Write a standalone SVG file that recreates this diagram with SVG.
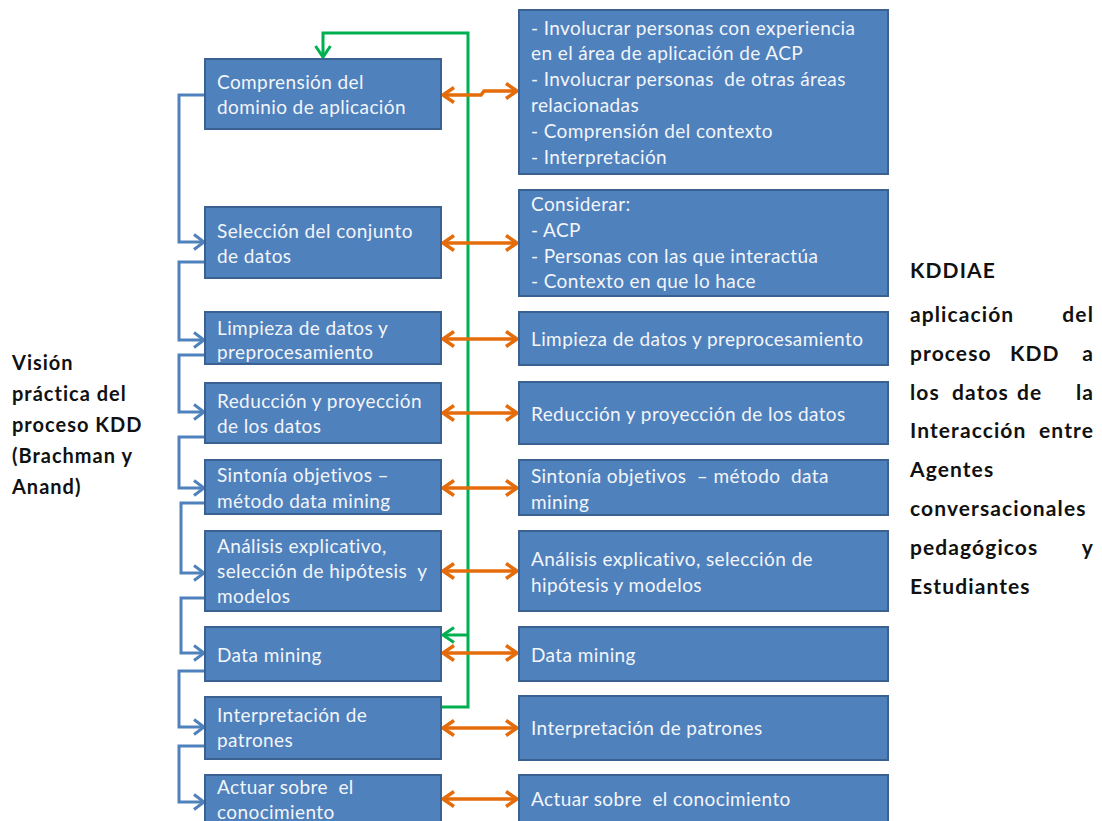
<svg xmlns="http://www.w3.org/2000/svg" width="1102" height="821" viewBox="0 0 1102 821">
  <style>
    .box { fill: #4F81BD; stroke: #3A6190; stroke-width: 2; }
    .t { font-family: Lato, "Liberation Sans", sans-serif; font-size: 19px; letter-spacing: 0.4px; fill: #F3F5F9; }
    .lbl { font-family: Lato, "Liberation Sans", sans-serif; font-size: 20px; letter-spacing: 1px; font-weight: bold; fill: #111; }
    .lbr { font-family: Lato, "Liberation Sans", sans-serif; font-size: 21px; letter-spacing: 1.1px; font-weight: bold; fill: #111; }
    .end { text-anchor: end; }
    .flow { fill: none; stroke: #4F81BD; stroke-width: 3; marker-end: url(#arrBlue); }
    .link { fill: none; stroke: #E46C0A; stroke-width: 3.5; marker-start: url(#arrOrange); marker-end: url(#arrOrange); }
    .loop { fill: none; stroke: #00B050; stroke-width: 3; }
  </style>
  <defs>
    <marker id="arrBlue" markerUnits="userSpaceOnUse" viewBox="0 0 14 18" markerWidth="14" markerHeight="18" refX="12" refY="9" orient="auto" overflow="visible">
      <path d="M2,1.5 L12,9 L2,16.5" fill="none" stroke="#4F81BD" stroke-width="3"/>
    </marker>
    <marker id="arrOrange" markerUnits="userSpaceOnUse" viewBox="0 0 14 18" markerWidth="14" markerHeight="18" refX="12" refY="9" orient="auto-start-reverse" overflow="visible">
      <path d="M1,1.5 L12,9 L1,16.5" fill="none" stroke="#E46C0A" stroke-width="3.5"/>
    </marker>
    <marker id="arrGreen" markerUnits="userSpaceOnUse" viewBox="0 0 14 18" markerWidth="14" markerHeight="18" refX="12" refY="9" orient="auto" overflow="visible">
      <path d="M1,1.5 L12,9 L1,16.5" fill="none" stroke="#00B050" stroke-width="3"/>
    </marker>
  </defs>

  <!-- side labels -->
  <g id="label-left">
    <text class="lbl" x="12" y="370">Visión</text>
    <text class="lbl" x="12" y="401">práctica del</text>
    <text class="lbl" x="12" y="432">proceso KDD</text>
    <text class="lbl" x="12" y="463">(Brachman y</text>
    <text class="lbl" x="12" y="494">Anand)</text>
  </g>
  <g id="label-right">
    <text class="lbr" x="910" y="278">KDDIAE</text>
    <text class="lbr" x="910" y="322">aplicación</text>
    <text class="lbr end" x="1094" y="322">del</text>
    <text class="lbr" x="910" y="361">proceso</text>
    <text class="lbr" x="1010" y="361">KDD</text>
    <text class="lbr end" x="1094" y="361">a</text>
    <text class="lbr" x="910" y="400">los</text>
    <text class="lbr" x="952" y="400">datos</text>
    <text class="lbr" x="1017" y="400">de</text>
    <text class="lbr end" x="1094" y="400">la</text>
    <text class="lbr" x="910" y="438">Interacción</text>
    <text class="lbr end" x="1094" y="438">entre</text>
    <text class="lbr" x="910" y="477">Agentes</text>
    <text class="lbr" x="910" y="516">conversacionales</text>
    <text class="lbr" x="910" y="555">pedagógicos</text>
    <text class="lbr end" x="1094" y="555">y</text>
    <text class="lbr" x="910" y="594">Estudiantes</text>
  </g>

  <!-- connectors -->
  <g id="connectors">
    <!-- step-to-step flow on the left -->
    <path class="flow" d="M205,95 H179 V242 H204"/>
    <path class="flow" d="M205,262 H179 V340 H204"/>
    <path class="flow" d="M205,355 H179 V412 H204"/>
    <path class="flow" d="M205,437 H179 V488 H204"/>
    <path class="flow" d="M205,503 H181 V573 H204"/>
    <path class="flow" d="M205,598 H181 V653 H204"/>
    <path class="flow" d="M205,671 H179 V727 H204"/>
    <path class="flow" d="M205,746 H179 V802 H204"/>
    <!-- feedback loop from pattern interpretation -->
    <path class="loop" d="M442,707 H468 V33 H323 V57" marker-end="url(#arrGreen)"/>
    <path class="loop" d="M468,635 H443" marker-end="url(#arrGreen)"/>
    <!-- two-way links between steps and KDDIAE notes -->
    <path class="link" d="M443,95 H481 L484,91 H517"/>
    <path class="link" d="M443,243 H517"/>
    <path class="link" d="M443,339 H517"/>
    <path class="link" d="M443,413 H517"/>
    <path class="link" d="M443,488 H517"/>
    <path class="link" d="M443,571 H517"/>
    <path class="link" d="M443,653 H517"/>
    <path class="link" d="M443,728 H517"/>
    <path class="link" d="M443,799 H517"/>
  </g>

  <!-- KDD steps -->
  <g id="step-1"><rect class="box" x="205" y="59" width="236" height="70"/>
    <text class="t" x="217" y="89">Comprensión del</text>
    <text class="t" x="217" y="114">dominio de aplicación</text></g>
  <g id="step-2"><rect class="box" x="205" y="207" width="236" height="71"/>
    <text class="t" x="217" y="238">Selección del conjunto</text>
    <text class="t" x="217" y="263">de datos</text></g>
  <g id="step-3"><rect class="box" x="205" y="312" width="236" height="52"/>
    <text class="t" x="217" y="335">Limpieza de datos y</text>
    <text class="t" x="217" y="359">preprocesamiento</text></g>
  <g id="step-4"><rect class="box" x="205" y="383" width="236" height="60"/>
    <text class="t" x="217" y="408">Reducción y proyección</text>
    <text class="t" x="217" y="433">de los datos</text></g>
  <g id="step-5"><rect class="box" x="205" y="460" width="236" height="54"/>
    <text class="t" x="217" y="482">Sintonía objetivos –</text>
    <text class="t" x="217" y="508">método data mining</text></g>
  <g id="step-6"><rect class="box" x="205" y="531" width="236" height="80"/>
    <text class="t" x="217" y="553">Análisis explicativo,</text>
    <text class="t" x="217" y="578" xml:space="preserve">selección de hipótesis  y</text>
    <text class="t" x="217" y="603">modelos</text></g>
  <g id="step-7"><rect class="box" x="205" y="627" width="236" height="54"/>
    <text class="t" x="217" y="662">Data mining</text></g>
  <g id="step-8"><rect class="box" x="205" y="697" width="236" height="62"/>
    <text class="t" x="217" y="722">Interpretación de</text>
    <text class="t" x="217" y="747">patrones</text></g>
  <g id="step-9"><rect class="box" x="205" y="775" width="236" height="60"/>
    <text class="t" x="217" y="794" xml:space="preserve">Actuar sobre  el</text>
    <text class="t" x="217" y="819">conocimiento</text></g>

  <!-- KDDIAE notes -->
  <g id="note-1"><rect class="box" x="519" y="10" width="369" height="164"/>
    <text class="t" x="531" y="34.5">- Involucrar personas con experiencia</text>
    <text class="t" x="531" y="60.3">en el área de aplicación de ACP</text>
    <text class="t" x="531" y="86.1" xml:space="preserve">- Involucrar personas  de otras áreas</text>
    <text class="t" x="531" y="111.9">relacionadas</text>
    <text class="t" x="531" y="137.7">- Comprensión del contexto</text>
    <text class="t" x="531" y="163.5">- Interpretación</text></g>
  <g id="note-2"><rect class="box" x="519" y="190" width="369" height="106"/>
    <text class="t" x="531" y="211">Considerar:</text>
    <text class="t" x="531" y="237">- ACP</text>
    <text class="t" x="531" y="263">- Personas con las que interactúa</text>
    <text class="t" x="531" y="288">- Contexto en que lo hace</text></g>
  <g id="note-3"><rect class="box" x="519" y="312" width="369" height="53"/>
    <text class="t" x="531" y="346">Limpieza de datos y preprocesamiento</text></g>
  <g id="note-4"><rect class="box" x="519" y="382" width="369" height="62"/>
    <text class="t" x="531" y="421">Reducción y proyección de los datos</text></g>
  <g id="note-5"><rect class="box" x="519" y="460" width="369" height="55"/>
    <text class="t" x="531" y="483" xml:space="preserve">Sintonía objetivos  – método  data</text>
    <text class="t" x="531" y="509">mining</text></g>
  <g id="note-6"><rect class="box" x="519" y="531" width="369" height="80"/>
    <text class="t" x="531" y="566">Análisis explicativo, selección de</text>
    <text class="t" x="531" y="592">hipótesis y modelos</text></g>
  <g id="note-7"><rect class="box" x="519" y="627" width="369" height="54"/>
    <text class="t" x="531" y="662">Data mining</text></g>
  <g id="note-8"><rect class="box" x="519" y="696" width="369" height="64"/>
    <text class="t" x="531" y="735">Interpretación de patrones</text></g>
  <g id="note-9"><rect class="box" x="519" y="775" width="369" height="60"/>
    <text class="t" x="531" y="806" xml:space="preserve">Actuar sobre  el conocimiento</text></g>
</svg>
